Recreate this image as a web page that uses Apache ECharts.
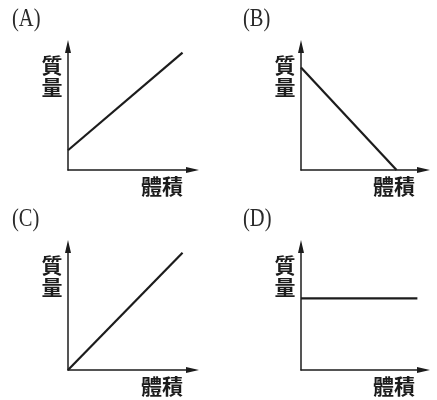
<!DOCTYPE html>
<html>
<head>
<meta charset="utf-8">
<script src="https://cdn.jsdelivr.net/npm/echarts@6/dist/echarts.min.js"></script>
<style>html,body{margin:0;padding:0;background:#fff;}#c{width:437px;height:400px;}</style>
</head>
<body>
<div id="c"></div>
<script>
// Panel labels and axis names
const panelLabels = ['(A)', '(B)', '(C)', '(D)'];
const yName = ['質', '量'];
const xName = '體積';
// Line endpoints (arbitrary units, axes 0..10)
const lineA = [[0, 1.6], [9.2, 9.5]];
const lineB = [[0, 8.3], [7.8, 0]];
const lineC = [[0, 0], [9.2, 9.5]];
const lineD = [[0, 5.8], [9.5, 5.8]];
const lines = [lineA, lineB, lineC, lineD];

const ink = '#1c1c1c';
const grids = [
  {left: 68, top: 46.5, width: 124.5, height: 123.5},
  {left: 301, top: 46.5, width: 122.5, height: 123.5},
  {left: 68, top: 246.5, width: 124.5, height: 123.5},
  {left: 301, top: 246.5, width: 122.5, height: 123.5}
];
const axisLine = {show: true, onZero: false, symbol: ['none', 'triangle'], symbolSize: [6, 13],
  lineStyle: {color: ink, width: 1.5}};
const xAxes = grids.map((g, i) => ({type: 'value', gridIndex: i, min: 0, max: 10,
  axisLine, axisTick: {show: false}, axisLabel: {show: false}, splitLine: {show: false}}));
const yAxes = grids.map((g, i) => ({type: 'value', gridIndex: i, min: 0, max: 10,
  axisLine, axisTick: {show: false}, axisLabel: {show: false}, splitLine: {show: false}}));
const series = lines.map((d, i) => ({type: 'line', xAxisIndex: i, yAxisIndex: i, data: d,
  symbol: 'none', silent: true, lineStyle: {color: ink, width: 2.2}}));

const labelPos = [[12, 7], [243, 7], [12, 207], [243, 207]];
const yNamePos = [[52, 54], [285, 54], [52, 254], [285, 254]];
const xNamePos = [[162, 176], [394, 176], [162, 376], [394, 376]];
const graphic = [];
panelLabels.forEach((t, i) => {
  graphic.push({type: 'text', x: labelPos[i][0], y: labelPos[i][1], scaleX: 0.82,
    style: {text: t, font: '25px "Liberation Serif", serif', fill: '#2a2a2a', verticalAlign: 'top'}});
  graphic.push({type: 'text', x: yNamePos[i][0], y: yNamePos[i][1],
    style: {text: yName.join('\n'), font: 'bold 21px "Noto Sans CJK TC"', lineHeight: 22,
      fill: '#1c1c1c', align: 'center', verticalAlign: 'top'}});
  graphic.push({type: 'text', x: xNamePos[i][0], y: xNamePos[i][1],
    style: {text: xName, font: 'bold 21px "Noto Sans CJK TC"', fill: '#1c1c1c',
      align: 'center', verticalAlign: 'top'}});
});

const chart = echarts.init(document.getElementById('c'), null, {renderer: 'canvas'});
chart.setOption({
  backgroundColor: '#fff',
  animation: false,
  grid: grids,
  xAxis: xAxes,
  yAxis: yAxes,
  series,
  graphic
});
</script>
</body>
</html>
